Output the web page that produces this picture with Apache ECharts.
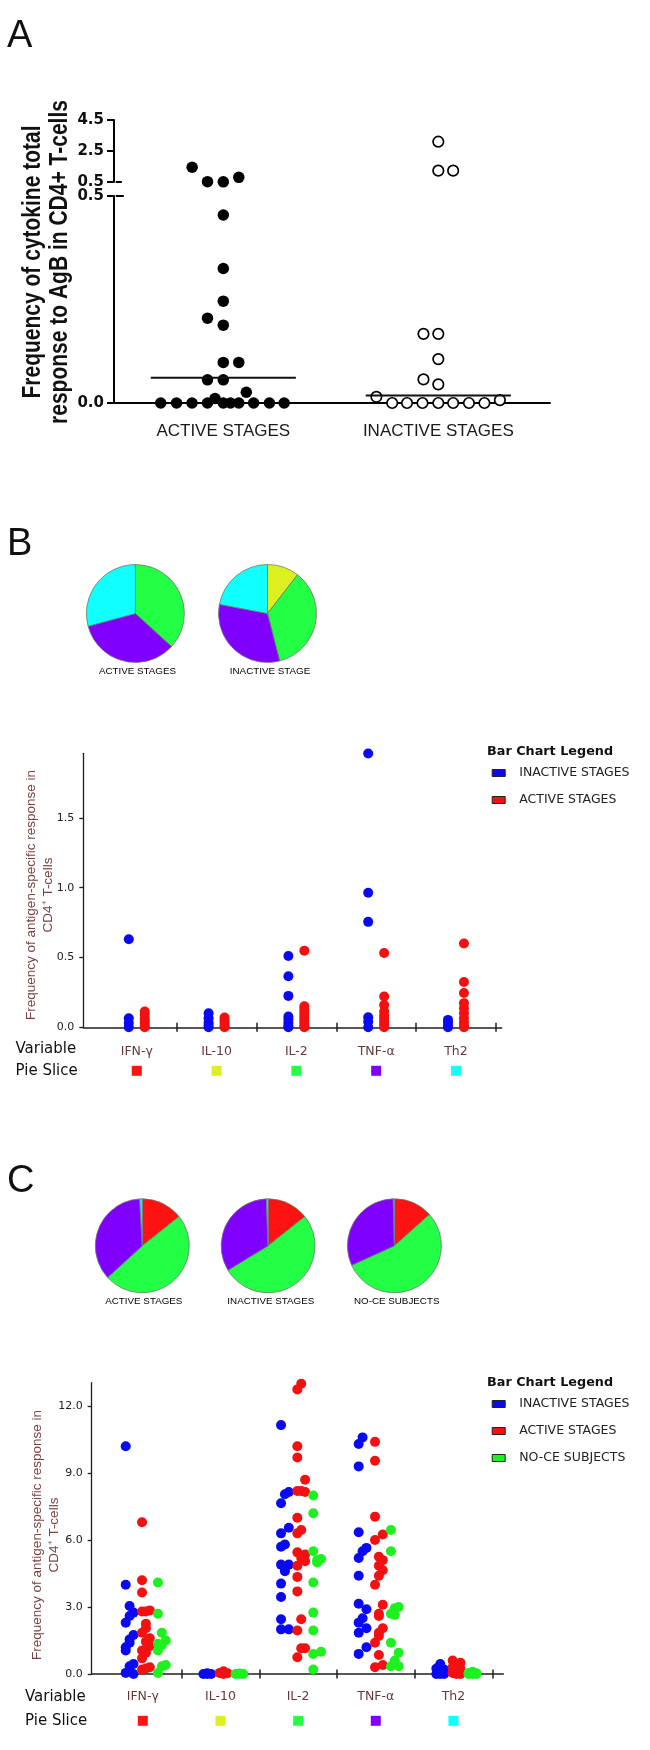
<!DOCTYPE html>
<html><head><meta charset="utf-8">
<script src="https://cdn.jsdelivr.net/npm/echarts@6/dist/echarts.min.js"></script>
<style>html,body{margin:0;padding:0;background:#fff}#c{width:650px;height:1750px}</style>
</head><body><div id="c"></div>
<script>
// ---------------- Panel A data ----------------
const aCategories = ['ACTIVE STAGES', 'INACTIVE STAGES'];
// [horizontal swarm offset from group centre, value]
const aActiveHigh = [[-0.29, 1.45], [-0.147, 0.52], [0, 0.51], [0.144, 0.8]];
const aActiveLow = [[0, 0.454], [0, 0.325], [0, 0.246], [-0.147, 0.205], [0, 0.188], [0, 0.098], [0.144, 0.098],
  [-0.147, 0.056], [0, 0.056], [0.214, 0.026], [-0.077, 0.011], [-0.582, 0], [-0.435, 0], [-0.291, 0], [-0.147, 0],
  [0, 0], [0.067, 0], [0.144, 0], [0.282, 0], [0.429, 0], [0.566, 0]];
const aInactiveHigh = [[0, 3.1], [0, 1.23], [0.138, 1.23]];
const aInactiveLow = [[-0.138, 0.167], [0, 0.167], [0, 0.106], [-0.138, 0.057], [0, 0.045], [-0.576, 0.015],
  [0.573, 0.007], [-0.429, 0], [-0.291, 0], [-0.147, 0], [0, 0], [0.138, 0], [0.285, 0], [0.429, 0]];
const aMedians = [0.061, 0.018];
const aHighTicks = [0.5, 2.5, 4.5];
const aLowTicks = [0, 0.5];

// ---------------- Shared ----------------
const variables = ['IFN-γ', 'IL-10', 'IL-2', 'TNF-α', 'Th2'];
const sliceColors = ['#ff1212', '#dcf020', '#22ff44', '#8000ff', '#10ffff'];

// ---------------- Panel B data ----------------
const bPieLabels = ['ACTIVE STAGES', 'INACTIVE STAGE'];
const bPieActive = [0, 0, 36.8, 34.0, 29.2];
const bPieInactive = [0, 10.5, 35.5, 32.0, 22.0];
const bInactive = [
  [0.63, 0.065, 0.03, 0],
  [0.1, 0.065, 0.035, 0.017, 0],
  [0.51, 0.365, 0.225, 0.077, 0.055, 0.03, 0.01, 0],
  [1.96, 0.964, 0.755, 0.072, 0.04, 0],
  [0.053, 0.03, 0.01, 0]
];
const bActive = [
  [0.113, 0.09, 0.065, 0.045, 0.03, 0.01, 0],
  [0.07, 0.05, 0.03, 0.01, 0],
  [0.549, 0.15, 0.13, 0.11, 0.09, 0.07, 0.05, 0.03, 0.01, 0],
  [0.532, 0.22, 0.16, 0.113, 0.085, 0.065, 0.04, 0.02, 0],
  [0.6, 0.324, 0.245, 0.173, 0.137, 0.1, 0.065, 0.035, 0.01, 0]
];
const bTicks = [0, 0.5, 1.0, 1.5];

// ---------------- Panel C data ----------------
const cPieLabels = ['ACTIVE STAGES', 'INACTIVE STAGES', 'NO-CE SUBJECTS'];
const cPieActive = [14.3, 0, 48.9, 35.9, 0.9];
const cPieInactive = [14.3, 0, 52.0, 33.1, 0.6];
const cPieNoCE = [13.4, 0, 54.8, 31.4, 0.4];
// [jitter step (-1, 0, 1), value]
const cInactive = [
  [[-1,10.2],[-1,4.0],[0,3.05],[1,2.75],[0,2.6],[-1,2.3],[1,1.75],[0,1.55],[0,1.4],[-1,1.2],[-1,1.05],[1,0.45],[0,0.35],[-1,0.05],[1,0]],
  [[-1,0],[0,0],[1,0],[0,0.03]],
  [[-1,11.15],[0,8.05],[1,8.15],[-1,7.65],[1,6.55],[-1,6.3],[0,5.8],[-1,5.7],[-1,4.9],[1,4.9],[0,4.75],[0,4.6],[-1,4.05],[-1,3.45],[-1,2.45],[-1,2.0],[1,2.0]],
  [[0,10.6],[-1,10.3],[-1,9.3],[-1,6.35],[1,5.65],[0,5.5],[-1,5.2],[-1,4.4],[-1,3.15],[1,2.9],[0,2.5],[-1,2.3],[1,2.05],[-1,1.85],[1,1.2],[-1,0.9]],
  [[0,0.45],[-1,0.25],[1,0.2],[0,0.1],[-1,0],[1,0],[0,0]]
];
const cActive = [
  [[-1,6.8],[-1,4.2],[-1,3.65],[-1,2.8],[0,2.8],[1,2.85],[0,2.25],[0,2.05],[-1,1.85],[1,1.6],[0,1.45],[1,1.25],[-1,1.05],[0,0.95],[-1,0.7],[-1,0.2],[0,0.25],[1,0.3]],
  [[-1,0.05],[0,0.12],[1,0.03],[0,0]],
  [[0,13.0],[-1,12.75],[-1,10.2],[-1,9.7],[1,8.7],[-1,8.2],[0,8.2],[1,8.15],[-1,7.0],[0,6.45],[-1,6.3],[-1,5.45],[1,5.35],[0,5.2],[1,5.05],[-1,4.85],[-1,4.35],[-1,3.7],[0,2.45],[-1,1.95],[0,1.15],[1,1.15],[-1,0.75]],
  [[-1,10.4],[-1,9.55],[-1,7.05],[1,6.25],[-1,6.0],[0,5.25],[1,5.1],[0,4.85],[1,4.65],[0,4.4],[-1,4.0],[1,3.1],[0,2.7],[0,2.6],[1,2.05],[0,1.85],[0,1.7],[-1,1.4],[0,0.85],[1,0.4],[-1,0.3]],
  [[-1,0.6],[1,0.5],[0,0.4],[-1,0.3],[1,0.25],[0,0.15],[-1,0.05],[1,0],[0,0]]
];
const cNoCE = [
  [[-1,4.1],[-1,2.7],[0,1.85],[1,1.5],[-1,1.35],[0,1.3],[-1,1.05],[1,0.4],[0,0.35],[-1,0.05]],
  [[-1,0],[0,0],[1,0],[0,0.02]],
  [[-1,8.0],[-1,7.2],[-1,5.5],[1,5.15],[0,5.0],[0,5.1],[-1,4.1],[-1,2.75],[-1,1.95],[1,1.0],[-1,0.9],[-1,0.2]],
  [[-1,6.45],[-1,5.5],[0,2.95],[1,3.0],[-1,2.7],[0,2.65],[-1,1.4],[1,0.95],[0,0.6],[-1,0.35],[1,0.35]],
  [[-1,0.05],[0,0.1],[1,0.03],[0,0],[-1,0],[1,0]]
];
const cTicks = [0, 3, 6, 9, 12];

// ---------------- Build ----------------
const LIB = "'Liberation Sans', Arial, sans-serif";
const DJ = "'DejaVu Sans', Verdana, sans-serif";
const AX = '#1f1f1f';
const BLUE = '#0a0af2', RED = '#f21010', GREEN = '#1ff01f';
const catCentres = [0.5, 1.5, 2.5, 3.5, 4.5];
const catBounds = [1, 2, 3, 4, 5];

const chart = echarts.init(document.getElementById('c'), null, {renderer: 'canvas', width: 650, height: 1750});

function grid(l, t, w, h) { return {left: l, top: t, width: w, height: h, containLabel: false, outerBoundsMode: 'none'}; }
const grids = [
  grid(114, 120, 436, 62), grid(114, 196, 436, 207),
  grid(114, 120, 436, 62), grid(114, 196, 436, 207),
  grid(83.3, 753.3, 418.4, 274), grid(83.3, 753.3, 418.4, 274),
  grid(91.7, 1382.7, 411.6, 291.3), grid(91.7, 1382.7, 411.6, 291.3)
];
const AR = [-0.0167, 4.039], BR = [-0.17, 5.073], CR = [-0.158, 5.142];
const hx = (gi, r) => ({type: 'value', gridIndex: gi, min: r[0], max: r[1], show: false});
const hy = (gi, lo, hi) => ({type: 'value', gridIndex: gi, min: lo, max: hi, show: false});

function richFor(l2) {
  const r = {n: {fontFamily: DJ, fontSize: 12.5, color: '#663838', lineHeight: 15}};
  sliceColors.forEach((c, i) => { r['s' + i] = {width: 10, height: 10, backgroundColor: c, lineHeight: l2}; });
  return r;
}
const catFmt = v => { const i = Math.round(v - 0.5); return '{n|' + variables[i] + '}\n{s' + i + '|}'; };

function mainX(gi, r, margin, l2) {
  return {type: 'value', gridIndex: gi, min: r[0], max: r[1],
    axisLine: {show: true, onZero: false, lineStyle: {color: AX, width: 1.5}},
    axisTick: {show: true, customValues: catBounds, length: 4.5, lineStyle: {color: AX, width: 1.5}},
    splitLine: {show: false},
    axisLabel: {customValues: catCentres, formatter: catFmt, rich: richFor(l2), margin: margin}};
}
function overX(gi, r) {
  return {type: 'value', gridIndex: gi, min: r[0], max: r[1], axisLine: {show: false},
    axisTick: {show: true, inside: true, customValues: catBounds, length: 4.5, lineStyle: {color: AX, width: 1.5}},
    axisLabel: {show: false}, splitLine: {show: false}};
}
function mainY(gi, lo, hi, ticks) {
  return {type: 'value', gridIndex: gi, min: lo, max: hi,
    axisLine: {show: true, onZero: false, lineStyle: {color: AX, width: 1.3}},
    axisTick: {show: true, customValues: ticks, length: 4, lineStyle: {color: AX, width: 1.3}},
    axisLabel: {customValues: ticks, formatter: v => v.toFixed(1), fontFamily: DJ, fontSize: 11, color: '#222', margin: 9},
    splitLine: {show: false}};
}
function aY(gi, lo, hi, ticks) {
  return {type: 'value', gridIndex: gi, min: lo, max: hi,
    axisLine: {show: true, onZero: false, lineStyle: {color: '#000', width: 2}},
    axisTick: {show: true, customValues: ticks, length: 7, lineStyle: {color: '#000', width: 2}},
    axisLabel: {customValues: ticks, formatter: v => v.toFixed(1), fontFamily: DJ, fontWeight: 'bold', fontSize: 15, color: '#111', margin: 10},
    splitLine: {show: false}};
}
function breakY(gi, lo, hi, len) {
  return {type: 'value', gridIndex: gi, min: lo, max: hi, axisLine: {show: false},
    axisTick: {show: true, inside: true, customValues: [0.5], length: len, lineStyle: {color: '#000', width: 2}},
    axisLabel: {show: false}, splitLine: {show: false}};
}

const xAxes = [
  hx(0, AR),
  {type: 'value', gridIndex: 1, min: AR[0], max: AR[1],
    axisLine: {show: true, onZero: false, lineStyle: {color: '#000', width: 2}},
    axisTick: {show: false}, splitLine: {show: false},
    axisLabel: {customValues: [1, 3], formatter: v => aCategories[Math.round((v - 1) / 2)], margin: 20,
      fontFamily: LIB, fontSize: 17, color: '#1a1a1a'}},
  hx(2, AR), hx(3, AR),
  mainX(4, BR, 17, 23), overX(5, BR),
  mainX(6, CR, 15, 33.6), overX(7, CR)
];
const yAxes = [
  aY(0, 0.5, 4.5, aHighTicks), aY(1, 0, 0.5, aLowTicks),
  breakY(2, 0.5, 4.5, 6), breakY(3, 0, 0.5, 8),
  mainY(4, 0, 1.962, bTicks), hy(5, 0, 1.962),
  mainY(6, 0, 13.05, cTicks), hy(7, 0, 13.05)
];

const series = [];
function sc(name, xi, data, style, size) {
  series.push({type: 'scatter', name: name, xAxisIndex: xi, yAxisIndex: xi, data: data, symbol: 'circle',
    symbolSize: size, itemStyle: Object.assign({opacity: 1}, style), clip: false, silent: true, z: 3});
}
// Panel A
const solid = {color: '#000'};
const open = {color: '#fff', borderColor: '#000', borderWidth: 1.7};
sc('A active high', 0, aActiveHigh.map(([o, v]) => [1 + o, v]), solid, 11.5);
sc('A active low', 1, aActiveLow.map(([o, v]) => [1 + o, v]), solid, 11.5);
sc('A inactive high', 0, aInactiveHigh.map(([o, v]) => [3 + o, v]), open, 10.5);
sc('A inactive low', 1, aInactiveLow.map(([o, v]) => [3 + o, v]), open, 10.5);
aMedians.forEach((m, i) => {
  const c = 1 + 2 * i;
  series.push({type: 'line', name: 'median ' + aCategories[i], xAxisIndex: 1, yAxisIndex: 1,
    data: [[c - 0.675, m], [c + 0.675, m]], symbol: 'none', silent: true, z: 5,
    lineStyle: {color: '#111', width: 2, opacity: 1}});
});
// Panel B
sc('INACTIVE STAGES', 4, bInactive.flatMap((arr, i) => arr.map(v => [catCentres[i] - 0.1, v])), {color: BLUE}, 10);
sc('ACTIVE STAGES', 4, bActive.flatMap((arr, i) => arr.map(v => [catCentres[i] + 0.1, v])), {color: RED}, 10);
// Panel C
const J = 0.05;
sc('INACTIVE STAGES', 6, cInactive.flatMap((arr, i) => arr.map(([j, v]) => [catCentres[i] - 0.17 + j * J, v])), {color: BLUE}, 10);
sc('ACTIVE STAGES', 6, cActive.flatMap((arr, i) => arr.map(([j, v]) => [catCentres[i] + 0.04 + j * J, v])), {color: RED}, 10);
sc('NO-CE SUBJECTS', 6, cNoCE.flatMap((arr, i) => arr.map(([j, v]) => [catCentres[i] + 0.245 + j * J, v])), {color: GREEN}, 10);

// Pies
function pie(name, vals, cx, cy, r) {
  series.push({type: 'pie', name: name, center: [cx, cy], radius: r, startAngle: 90, clockwise: true,
    silent: true, label: {show: false}, labelLine: {show: false},
    itemStyle: {borderColor: '#6f7a6f', borderWidth: 0.8, opacity: 1},
    data: vals.map((v, i) => ({name: variables[i], value: v, itemStyle: {color: sliceColors[i]}})).filter(d => d.value > 0)});
}
pie('B ' + bPieLabels[0], bPieActive, 135.4, 613.5, 49);
pie('B ' + bPieLabels[1], bPieInactive, 267.5, 613.5, 49);
pie('C ' + cPieLabels[0], cPieActive, 142.3, 1245.8, 47);
pie('C ' + cPieLabels[1], cPieInactive, 268.1, 1245.8, 47);
pie('C ' + cPieLabels[2], cPieNoCE, 394.4, 1245.8, 47);

// Text
function T(x, y, text, font, o) {
  o = o || {};
  return {type: 'text', x: x, y: y, rotation: o.rot || 0, scaleX: o.sx || 1, scaleY: o.sy || 1, silent: true,
    style: {text: text, font: font, fill: o.fill || '#111', align: o.align || 'left', verticalAlign: 'middle',
      lineHeight: o.lh}};
}
const letterFont = "38px " + LIB;
const pieFont = "9.8px " + LIB;
const yNameFont = "13.5px " + LIB;
const elements = [
  T(7, 37, 'A', letterFont),
  T(7, 545, 'B', letterFont),
  T(7, 1182, 'C', letterFont),
  T(46.5, 262, 'Frequency of cytokine total\nresponse to AgB in CD4+ T-cells', "bold 21px " + LIB,
    {rot: Math.PI / 2, sy: 1.25, align: 'center', lh: 21.6}),
  T(137.5, 671.7, bPieLabels[0], pieFont, {align: 'center', fill: '#000'}),
  T(270, 671.7, bPieLabels[1], pieFont, {align: 'center', fill: '#000'}),
  T(143.8, 1301, cPieLabels[0], pieFont, {align: 'center', fill: '#000'}),
  T(270.8, 1301, cPieLabels[1], pieFont, {align: 'center', fill: '#000'}),
  T(396.7, 1301, cPieLabels[2], pieFont, {align: 'center', fill: '#000'}),
  T(39.6, 895, 'Frequency of antigen-specific response in\nCD4⁺ T-cells', yNameFont,
    {rot: Math.PI / 2, align: 'center', lh: 16.6, fill: '#7a4141'}),
  T(46, 1535, 'Frequency of antigen-specific response in\nCD4⁺ T-cells', yNameFont,
    {rot: Math.PI / 2, align: 'center', lh: 16.6, fill: '#7a4141'}),
  T(15.5, 1049, 'Variable', "15px " + DJ),
  T(15.5, 1071, 'Pie Slice', "15px " + DJ),
  T(25, 1696.7, 'Variable', "15px " + DJ),
  T(25, 1721, 'Pie Slice', "15px " + DJ),
  T(487, 751.7, 'Bar Chart Legend', "bold 12.8px " + DJ),
  T(487, 1383, 'Bar Chart Legend', "bold 12.8px " + DJ)
];

const legendBase = {orient: 'vertical', itemWidth: 13, itemHeight: 7, itemGap: 11, icon: 'rect',
  itemStyle: {borderColor: '#222', borderWidth: 1, opacity: 1}, selectedMode: false,
  textStyle: {fontFamily: DJ, fontSize: 12.5, color: '#222', lineHeight: 16, padding: [0, 0, 0, 9]}};

chart.setOption({
  animation: false,
  backgroundColor: '#fff',
  grid: grids,
  xAxis: xAxes,
  yAxis: yAxes,
  legend: [
    Object.assign({}, legendBase, {data: ['INACTIVE STAGES', 'ACTIVE STAGES'], left: 486.7, top: 760}),
    Object.assign({}, legendBase, {data: ['INACTIVE STAGES', 'ACTIVE STAGES', 'NO-CE SUBJECTS'], left: 486.7, top: 1391})
  ],
  series: series,
  graphic: {elements: elements}
});
</script></body></html>
